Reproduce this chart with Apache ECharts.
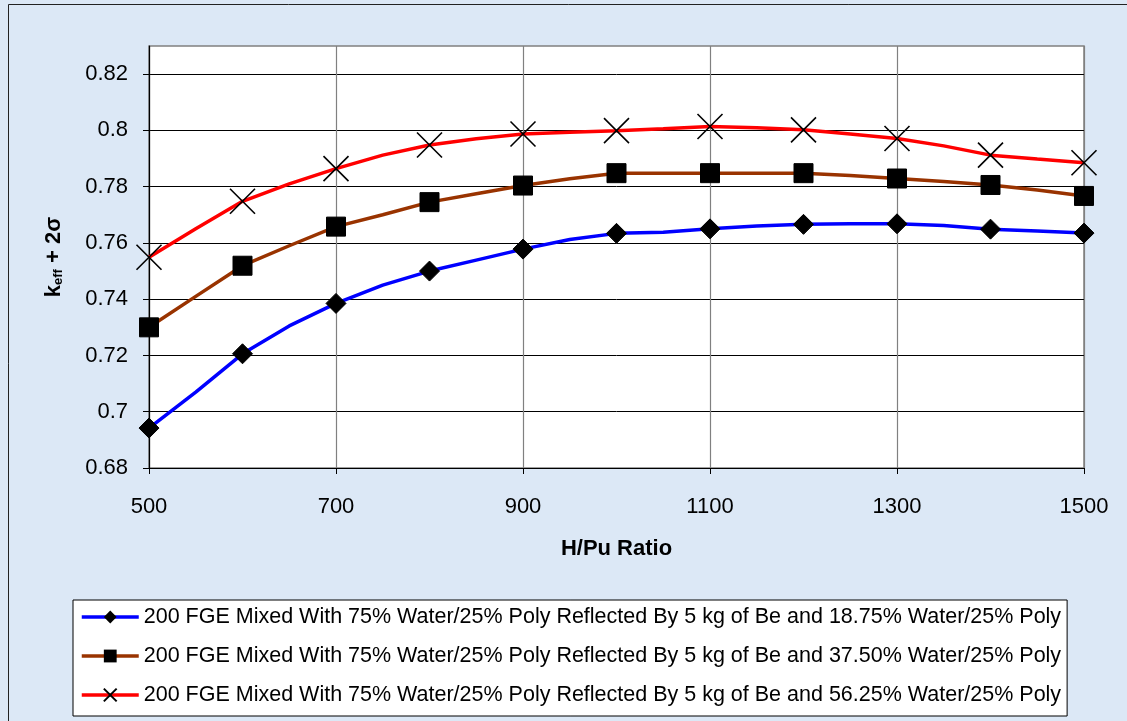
<!DOCTYPE html>
<html>
<head>
<meta charset="utf-8">
<script src="https://cdn.jsdelivr.net/npm/echarts@6/dist/echarts.min.js"></script>
<style>
html,body{margin:0;padding:0;background:#dce8f6;}
#chart{width:1127px;height:721px;}
</style>
</head>
<body>
<div id="chart"></div>
<script>
// H/Pu ratio sample positions (line vertices every 50, markers every 100)
const hpu = [500,550,600,650,700,750,800,850,900,950,1000,1050,1100,1150,1200,1250,1300,1350,1400,1450,1500];
const keff_1875 = [0.6942,0.7070,0.7206,0.7305,0.7385,0.7450,0.7500,0.7539,0.7578,0.7612,0.7634,0.7638,0.7650,0.7660,0.7666,0.7668,0.7668,0.7662,0.7649,0.7642,0.7635];
const keff_3750 = [0.7300,0.7410,0.7519,0.7590,0.7658,0.7700,0.7745,0.7775,0.7804,0.7828,0.7848,0.7848,0.7848,0.7848,0.7848,0.7840,0.7829,0.7818,0.7806,0.7788,0.7767];
const keff_5625 = [0.7549,0.7650,0.7748,0.7810,0.7864,0.7912,0.7948,0.7970,0.7987,0.7993,0.7999,0.8006,0.8014,0.8009,0.8002,0.7987,0.7971,0.7945,0.7912,0.7898,0.7885];
const seriesNames = [
  '200 FGE Mixed With 75% Water/25% Poly Reflected By 5 kg of Be and 18.75% Water/25% Poly',
  '200 FGE Mixed With 75% Water/25% Poly Reflected By 5 kg of Be and 37.50% Water/25% Poly',
  '200 FGE Mixed With 75% Water/25% Poly Reflected By 5 kg of Be and 56.25% Water/25% Poly'
];
const yTicks = [0.68,0.70,0.72,0.74,0.76,0.78,0.80,0.82];
const xTicks = [500,700,900,1100,1300,1500];

const FONT = 'Liberation Sans, Arial, sans-serif';
const crossPath = 'path://M0,0L24,24M24,0L0,24';

function buildData(vals){
  return hpu.map((x,i)=>{
    const item = {value:[x, vals[i]]};
    if (x % 100 !== 0) item.symbol = 'none';
    return item;
  });
}

const chart = echarts.init(document.getElementById('chart'));
chart.setOption({
  backgroundColor: '#dce8f6',
  animation: false,
  graphic: [{
    type: 'rect', left: 6, top: 2, z: -1,
    shape: {width: 1130, height: 730},
    style: {fill: 'none', stroke: '#222', lineWidth: 1}
  }],
  grid: {
    left: 149, top: 46, right: 43, bottom: 253,
    show: true, backgroundColor: '#ffffff', borderColor: '#808080', borderWidth: 1.5
  },
  legend: {
    orient: 'vertical', left: 73, top: 600,
    backgroundColor: '#ffffff', borderColor: '#000', borderWidth: 1,
    padding: [6, 6, 10, 7],
    itemWidth: 57, itemHeight: 16, itemGap: 17,
    lineStyle: {width: 3.5},
    textStyle: {fontFamily: FONT, fontSize: 21.5, color: '#000'},
    data: seriesNames
  },
  xAxis: {
    type: 'value', min: 500, max: 1500, interval: 200,
    name: 'H/Pu Ratio', nameLocation: 'middle', nameGap: 70,
    nameTextStyle: {fontFamily: FONT, fontSize: 22, fontWeight: 'bold', color: '#000'},
    axisLine: {show: true, lineStyle: {color: '#000', width: 1.2}},
    axisTick: {show: true, inside: false, length: 6, lineStyle: {color: '#000'}},
    axisLabel: {fontFamily: FONT, fontSize: 22, color: '#000', margin: 28, formatter: v => String(v)},
    splitLine: {show: true, lineStyle: {color: '#808080', width: 1.2}}
  },
  yAxis: {
    type: 'value', min: 0.68, max: 0.83, interval: 0.02,
    name: '{b|k}{s|eff}{b| + 2σ}', nameLocation: 'middle', nameGap: 84, nameRotate: 90,
    nameTextStyle: {
      rich: {
        b: {fontFamily: FONT, fontSize: 22, fontWeight: 'bold', color: '#000', lineHeight: 26, verticalAlign: 'bottom'},
        s: {fontFamily: FONT, fontSize: 13, fontWeight: 'bold', color: '#000', lineHeight: 26, verticalAlign: 'bottom', padding: [7,0,0,0]}
      }
    },
    axisLine: {show: true, lineStyle: {color: '#000', width: 1.2}},
    axisTick: {show: true, inside: false, length: 6, lineStyle: {color: '#000'}, customValues: yTicks},
    axisLabel: {fontFamily: FONT, fontSize: 22, color: '#000', margin: 21, customValues: yTicks,
      formatter: v => String(parseFloat(v.toFixed(2)))},
    splitLine: {show: true, lineStyle: {color: '#000', width: 1}}
  },
  series: [
    {
      name: seriesNames[0], type: 'line', data: buildData(keff_1875),
      symbol: 'diamond', symbolSize: 20, showAllSymbol: true,
      lineStyle: {color: '#0000ff', width: 3.5},
      itemStyle: {color: '#000', borderColor: '#000'},
      color: '#0000ff', z: 3
    },
    {
      name: seriesNames[1], type: 'line', data: buildData(keff_3750),
      symbol: 'rect', symbolSize: 19, showAllSymbol: true,
      lineStyle: {color: '#993300', width: 3.5},
      itemStyle: {color: '#000', borderColor: '#000'},
      color: '#993300', z: 3
    },
    {
      name: seriesNames[2], type: 'line', data: buildData(keff_5625),
      symbol: crossPath, symbolSize: 25, showAllSymbol: true,
      lineStyle: {color: '#ff0000', width: 3.5},
      itemStyle: {color: 'rgba(0,0,0,0)', borderColor: '#000', borderWidth: 1.6},
      color: '#ff0000', z: 3
    }
  ]
});
</script>
</body>
</html>
